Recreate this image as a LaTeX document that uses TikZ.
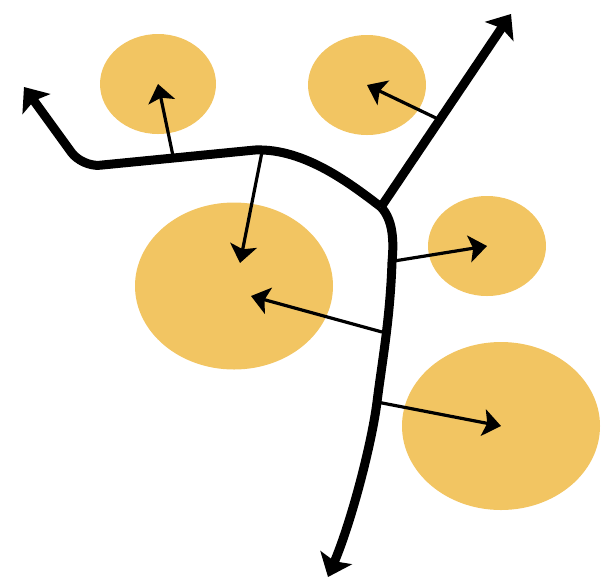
\documentclass[tikz,border=0pt]{standalone}
\usetikzlibrary{shapes.geometric,arrows.meta}
\definecolor{blob}{RGB}{242,197,98}
\tikzset{
  blobnode/.style={ellipse,fill=blob,draw=none,inner sep=0pt},
  mainline/.style={line width=9pt,line join=round,-{Stealth[length=21pt,width=34pt,inset=4pt]}},
  thinarrow/.style={line width=3.2pt,-{Stealth[length=18pt,width=27pt,inset=4pt]}}
}
\begin{document}
\begin{tikzpicture}[x=1pt,y=-1pt]
\useasboundingbox (0,0) rectangle (601,579);
% blobs
\node[blobnode,minimum width=116pt,minimum height=100pt] (e1) at (158,84) {};
\node[blobnode,minimum width=118pt,minimum height=100pt] (e2) at (367,85) {};
\node[blobnode,minimum width=118pt,minimum height=100pt] (e3) at (487,246) {};
\node[blobnode,minimum width=198pt,minimum height=167pt] (e4) at (234,286) {};
\node[blobnode,minimum width=198pt,minimum height=168pt] (e5) at (501,426) {};
% main line coordinates
\coordinate (L) at (24,87);
\coordinate (C) at (82,167);
\coordinate (M) at (255,150);
\coordinate (J) at (381,207);
\coordinate (T) at (511,14);
\coordinate (B) at (328,577);
% thin arrow starts / tips
\coordinate (s1) at (173,156);
\coordinate (s2) at (262,152);
\coordinate (s3) at (438,119);
\coordinate (s4) at (394,261);
\coordinate (s5) at (382,332);
\coordinate (s6) at (377,402);
\coordinate (t4a) at (240,263);
\coordinate (t4b) at (251,296);
% main lines
\draw[mainline] (J) .. controls (352,185) and (305,148) .. (M)
  [rounded corners=18pt] -- (C) -- (L);
\draw[mainline] (J) .. controls (393,220) and (394,240) .. (392,262)
  .. controls (390,320) and (382,362) .. (377,402)
  .. controls (372,442) and (352,520) .. (B);
\draw[mainline] (J) -- (T);
% thin arrows
\draw[thinarrow] (s1) -- (e1.center);
\draw[thinarrow] (s2) -- (t4a);
\draw[thinarrow] (s3) -- (e2.center);
\draw[thinarrow] (s4) -- (e3.center);
\draw[thinarrow] (s5) -- (t4b);
\draw[thinarrow] (s6) -- (e5.center);
\end{tikzpicture}
\end{document}
